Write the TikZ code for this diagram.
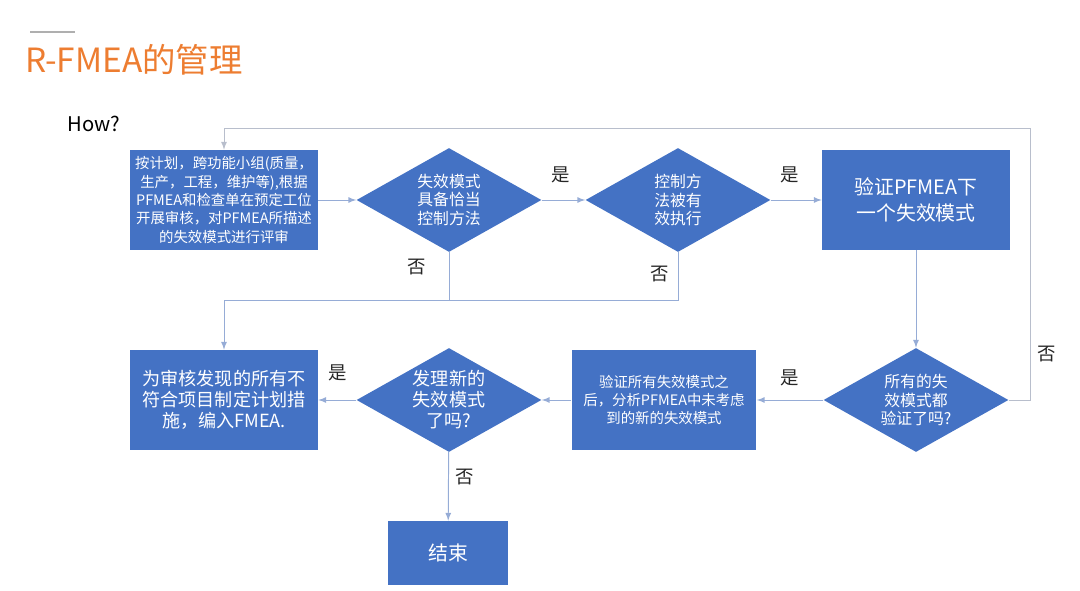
\documentclass[tikz,border=0pt]{standalone}
\usepackage{fontspec}
\setmainfont{Noto Sans CJK SC}
\usepackage{xcolor}
\usepackage{tikz}
\usetikzlibrary{shapes.geometric}
\definecolor{bleu}{RGB}{68,114,196}
\definecolor{trait}{RGB}{150,172,214}
\definecolor{boucle}{RGB}{184,190,204}
\definecolor{titre}{RGB}{237,125,49}
\definecolor{regle}{RGB}{175,175,175}
\begin{document}
\begin{tikzpicture}[x=0.02cm,y=-0.02cm]
% Styles
\tikzstyle{boite}=[fill=bleu,text=white,inner sep=0pt,align=center,minimum width=3.76cm,minimum height=2cm]
\tikzstyle{losange}=[diamond,fill=bleu,text=white,inner sep=0pt,aspect=1.78,align=center,minimum width=3.7cm,minimum height=2.08cm]
\tikzstyle{fleche}=[->,>=latex,line width=0.55pt,draw=trait]
\tikzstyle{liaison}=[line width=0.55pt,draw=trait]
\tikzstyle{reponse}=[inner sep=0pt,text=black!85,font=\fontsize{10.5}{12}\selectfont]
% Tailles de texte
\def\TexteA{\fontsize{8.2}{10.5}\selectfont}
\def\TexteB{\fontsize{9}{10.6}\selectfont}
\def\TexteC{\fontsize{10.3}{12}\selectfont}
\def\TexteD{\fontsize{11.3}{14.7}\selectfont}
\useasboundingbox (0,0) rectangle (1080,591);
% En-tete
\draw[regle,line width=1pt] (30,32) -- (75,32);
\node[anchor=west,inner sep=0pt,text=titre,font=\fontsize{19}{21}\selectfont] (titre) at (25,60) {R-FMEA的管理};
\node[anchor=west,inner sep=0pt,font=\fontsize{11.5}{13}\selectfont] (how) at (67,124) {How?};
% Noeuds
\node[boite,font=\TexteA] (Audit) at (224,200) {按计划，跨功能小组(质量，\\生产，工程，维护等),根据\\PFMEA和检查单在预定工位\\开展审核，对PFMEA所描述\\的失效模式进行评审};
\node[losange,font=\TexteB] (Ctrl) at (449,200) {失效模式\\具备恰当\\控制方法};
\node[losange,font=\TexteB] (Exec) at (678,200) {控制方\\法被有\\效执行};
\node[boite,font=\TexteD] (Suivant) at (916,200) {验证PFMEA下\\一个失效模式};
\node[losange,font=\TexteB] (Tous) at (916,400) {所有的失\\效模式都\\验证了吗?};
\node[boite,minimum width=3.7cm,font=\TexteA] (Analyse) at (664,400) {验证所有失效模式之\\后，分析PFMEA中未考虑\\到的新的失效模式};
\node[losange,font=\TexteC] (Nouveau) at (449,400) {发理新的\\失效模式\\了吗?};
\node[boite,font=\TexteC] (Plan) at (224,400) {为审核发现的所有不\\符合项目制定计划措\\施，编入FMEA.};
\node[boite,minimum width=2.4cm,minimum height=1.28cm,font=\TexteD] (Fin) at (448,553) {结束};
\coordinate (coin) at (1030,128);
\coordinate (jonction) at (224,300);
% Arcs
\draw[fleche] (Audit)--(Ctrl);
\draw[fleche] (Ctrl)--(Exec);
\draw[fleche] (Exec)--(Suivant);
\draw[fleche] (Suivant)--(Tous);
\draw[fleche,draw=boucle] (Tous.east) -| (coin) -| (Audit.north);
\draw[fleche] (Ctrl.south) |- (jonction) -- (Plan.north);
\draw[liaison] (Exec.south) |- (jonction);
\draw[fleche] (Tous)--(Analyse);
\draw[fleche] (Analyse)--(Nouveau);
\draw[fleche] (Nouveau)--(Plan);
\draw[fleche] (Nouveau)--(Fin);
% Reponses
\node[reponse] (oui1) at (561,175) {是};
\node[reponse] (oui2) at (790,175) {是};
\node[reponse] (non1) at (417,267) {否};
\node[reponse] (non2) at (660,274) {否};
\node[reponse] (non3) at (1047,354) {否};
\node[reponse] (oui3) at (790,378) {是};
\node[reponse] (oui4) at (338,373) {是};
\node[reponse] (non4) at (465,477) {否};
\end{tikzpicture}
\end{document}
